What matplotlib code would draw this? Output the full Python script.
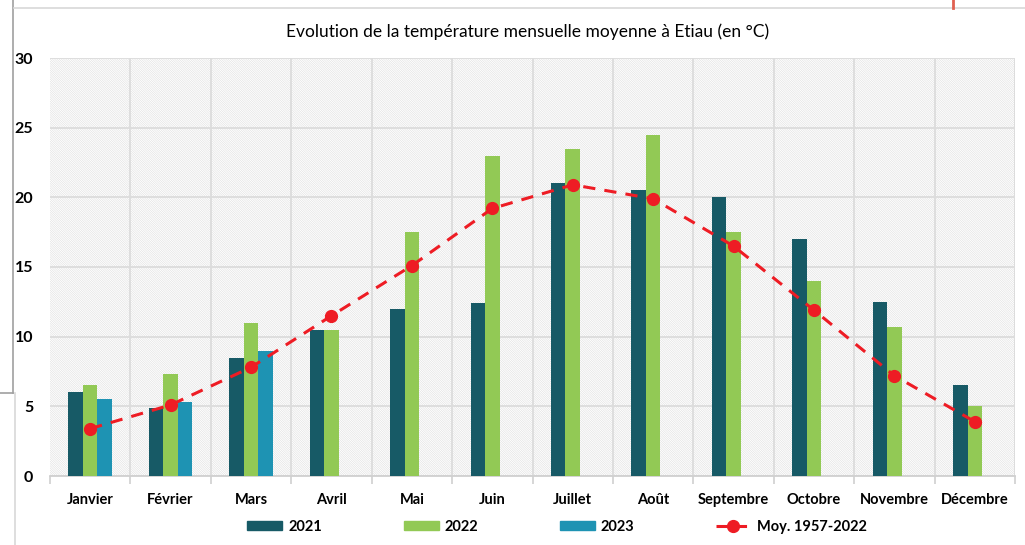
import matplotlib
matplotlib.use("Agg")
import matplotlib.pyplot as plt
import numpy as np
from matplotlib.patches import Rectangle
from matplotlib.lines import Line2D

months = ["Janvier", "Février", "Mars", "Avril", "Mai", "Juin", "Juillet",
          "Août", "Septembre", "Octobre", "Novembre", "Décembre"]
t2021 = [6.0, 4.9, 8.5, 10.5, 12.0, 12.4, 21.0, 20.5, 20.0, 17.0, 12.5, 6.5]
t2022 = [6.5, 7.3, 11.0, 10.5, 17.5, 23.0, 23.5, 24.5, 17.5, 14.0, 10.7, 5.0]
t2023 = [5.5, 5.3, 9.0, np.nan, np.nan, np.nan, np.nan, np.nan, np.nan, np.nan, np.nan, np.nan]
moy = [3.4, 5.1, 7.8, 11.5, 15.1, 19.2, 20.9, 19.9, 16.5, 11.9, 7.2, 3.9]
yticks = [0, 5, 10, 15, 20, 25, 30]
title = "Evolution de la température mensuelle moyenne à Etiau (en °C)"

c21 = "#175A66"
c22 = "#92C955"
c23 = "#1E93B3"
cm = "#EE1C24"

plt.rcParams['font.family'] = ['Lato', 'DejaVu Sans']
plt.rcParams['hatch.linewidth'] = 0.4

fig = plt.figure(figsize=(10.25, 5.45), dpi=100)
ax = fig.add_axes([50/1025, 1-476/545, (1015-50)/1025, (476-58)/545])

x = np.arange(len(months))
w = 0.18

# hatched background
bg = Rectangle((0, 0), 1, 1, transform=ax.transAxes, facecolor="white",
               edgecolor="#dedede", hatch="\\" * 15, linewidth=0, zorder=0)
ax.add_patch(bg)

ax.bar(x - w, t2021, w, color=c21, zorder=3, label="2021")
ax.bar(x, t2022, w, color=c22, zorder=3, label="2022")
ax.bar(x + w, t2023, w, color=c23, zorder=3, label="2023")
ax.plot(x, moy, color=cm, lw=2.2, dashes=(4, 3), marker="o", markersize=8.5,
        zorder=5, label="Moy. 1957-2022")

ax.set_xlim(-0.5, 11.5)
ax.set_ylim(0, 30)
ax.set_yticks(yticks)
ax.set_yticklabels([str(v) for v in yticks], fontweight="bold", fontsize=11.5)
ax.set_xticks(x)
ax.set_xticklabels(months, fontweight="bold", fontsize=10.5)
ax.set_xticks(np.arange(-0.5, 12, 1), minor=True)
ax.tick_params(axis="x", which="major", length=0, pad=12)
ax.tick_params(axis="x", which="minor", length=6, color="#d0d0d0", width=1.2)
ax.tick_params(axis="y", length=0, pad=12)

for v in yticks:
    ax.axhline(v, color="#dcdcdc", lw=1.3, zorder=1)
for b in np.arange(0.5, 12, 1):
    ax.axvline(b, color="#dcdcdc", lw=1.3, zorder=1)

for s in ["top", "left", "right"]:
    ax.spines[s].set_visible(False)
ax.spines["bottom"].set_color("#d0d0d0")
ax.spines["bottom"].set_linewidth(1.3)
ax.axvline(11.5, color="#dcdcdc", lw=1.3, zorder=1)

fig.text(528/1025, 1-32/545, title, ha="center", va="center", fontsize=12.5)

handles = [Rectangle((0, 0), 1, 1, color=c21), Rectangle((0, 0), 1, 1, color=c22),
           Rectangle((0, 0), 1, 1, color=c23),
           Line2D([], [], color=cm, lw=2.2, dashes=(4, 2), marker="o", markersize=8.5)]
leg = fig.legend(handles, ["2021", "2022", "2023", "Moy. 1957-2022"], ncol=4,
                 loc="center", bbox_to_anchor=(557/1025, 1-527/545), frameon=False,
                 prop={"weight": "bold", "size": 10.5}, handlelength=2.4,
                 handleheight=0.6, columnspacing=5.6, handletextpad=0.4)

# screenshot frame decorations
fig.add_artist(Line2D([13/1025, 13/1025], [1, 1-393/545], color="#a0a0a0", lw=1.2))
fig.add_artist(Line2D([0, 13/1025], [1-393/545, 1-393/545], color="#a0a0a0", lw=1.2))
fig.add_artist(Line2D([15/1025, 15/1025], [1-393/545, 0], color="#d8d8d8", lw=1.2))
fig.add_artist(Line2D([14/1025, 1], [1-8/545, 1-8/545], color="#d8d8d8", lw=1.2))
fig.add_artist(Line2D([953/1025, 953/1025], [1, 1-8/545], color="#e06050", lw=2))

fig.savefig("out.png", dpi=100)
